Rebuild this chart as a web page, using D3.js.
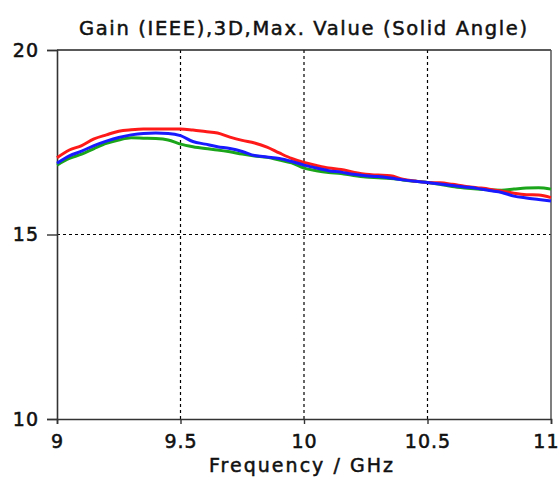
<!DOCTYPE html>
<html><head><meta charset="utf-8">
<script src="https://cdn.jsdelivr.net/npm/d3@7"></script>
<style>body{margin:0;background:#fff}svg{display:block}text{font-family:"DejaVu Sans",Verdana,sans-serif;fill:#111}</style>
</head><body><svg id="c" width="560" height="478"></svg>
<script>
const freq = [9.0,9.05,9.1,9.15,9.2,9.25,9.3,9.35,9.4,9.45,9.5,9.55,9.6,9.65,9.7,9.75,9.8,9.85,9.9,9.95,10.0,10.05,10.1,10.15,10.2,10.25,10.3,10.35,10.4,10.45,10.5,10.55,10.6,10.65,10.7,10.75,10.8,10.85,10.9,10.95,11.0];
const redGain = [17.08,17.29,17.41,17.59,17.70,17.80,17.84,17.86,17.86,17.86,17.86,17.83,17.79,17.75,17.64,17.55,17.48,17.37,17.21,17.06,16.95,16.87,16.80,16.76,16.69,16.63,16.61,16.59,16.50,16.45,16.41,16.40,16.36,16.31,16.27,16.23,16.18,16.12,16.08,16.07,16.00];
const blueGain = [16.93,17.13,17.26,17.41,17.53,17.63,17.70,17.74,17.75,17.74,17.68,17.52,17.45,17.38,17.33,17.25,17.14,17.10,17.06,16.98,16.88,16.80,16.73,16.69,16.63,16.59,16.57,16.53,16.48,16.44,16.41,16.37,16.33,16.29,16.25,16.19,16.14,16.04,15.99,15.95,15.91];
const greenGain = [16.88,17.06,17.18,17.33,17.47,17.56,17.62,17.61,17.60,17.56,17.45,17.38,17.33,17.29,17.24,17.18,17.13,17.09,17.02,16.94,16.80,16.73,16.68,16.65,16.60,16.56,16.54,16.52,16.48,16.44,16.41,16.36,16.30,16.26,16.23,16.21,16.20,16.23,16.26,16.27,16.23];
const xTicks = [9, 9.5, 10, 10.5, 11];
const xTickLabels = ["9","9.5","10","10.5","11"];
const yTicks = [10, 15, 20];
const title = "Gain (IEEE),3D,Max. Value (Solid Angle)";
const xLabel = "Frequency / GHz";

const svg = d3.select("#c");
const L = 57, R = 551, T = 50, B = 419;
const x = d3.scaleLinear().domain([9, 11]).range([L, R]);
const y = d3.scaleLinear().domain([10, 20]).range([B, T]);

// gridlines
const g = svg.append("g");
g.selectAll("line.vx").data(xTicks.filter(v => v > 9 && v < 11)).enter().append("line")
  .attr("x1", d => x(d)).attr("x2", d => x(d)).attr("y1", T).attr("y2", B)
  .attr("stroke", "#000").attr("stroke-width", 1.2).attr("stroke-dasharray", "3,3");
g.selectAll("line.hy").data(yTicks.filter(v => v > 10 && v < 20)).enter().append("line")
  .attr("x1", L).attr("x2", R).attr("y1", d => y(d)).attr("y2", d => y(d))
  .attr("stroke", "#000").attr("stroke-width", 1.2).attr("stroke-dasharray", "3,3");

// frame
svg.append("line").attr("x1", L).attr("x2", R).attr("y1", T).attr("y2", T).attr("stroke", "#222").attr("stroke-width", 1.5);
svg.append("line").attr("x1", R).attr("x2", R).attr("y1", T).attr("y2", B).attr("stroke", "#555").attr("stroke-width", 1.5);

// axes
const xAxis = d3.axisBottom(x).tickValues(xTicks).tickFormat((d, i) => xTickLabels[i]).tickSize(5).tickPadding(11);
const yAxis = d3.axisLeft(y).tickValues(yTicks).tickFormat(d3.format("d")).tickSize(10).tickPadding(8);
const gx = svg.append("g").attr("transform", `translate(0,${B})`).call(xAxis);
const gy = svg.append("g").attr("transform", `translate(${L},0)`).call(yAxis);
[gx, gy].forEach(a => {
  a.select(".domain").attr("stroke", "#333").attr("stroke-width", 1.6);
  a.selectAll(".tick line").attr("stroke", "#333").attr("stroke-width", 1.4);
  a.selectAll(".tick text").style("font-family", "DejaVu Sans, sans-serif").style("font-size", "19px")
    .style("letter-spacing", "1px").attr("fill", "#111")
    .attr("stroke", "#111").attr("stroke-width", 0.55);
});
// keep last x label inside the picture, as in the reference
gx.selectAll(".tick text").filter(d => d === 11).attr("text-anchor", "end").attr("x", 559 - x(11));

// curves
const series = [
  {vals: greenGain, color: "#1aa51a"},
  {vals: redGain, color: "#ff1a1a"},
  {vals: blueGain, color: "#1a1aff"}
];
const line = d3.line().x((d, i) => x(freq[i])).y(d => y(d)).curve(d3.curveMonotoneX);
svg.selectAll("path.s").data(series).enter().append("path")
  .attr("fill", "none").attr("stroke", d => d.color).attr("stroke-width", 3)
  .attr("stroke-linejoin", "round").attr("d", d => line(d.vals));

// texts
svg.append("text").attr("x", 303).attr("y", 35).attr("text-anchor", "middle")
  .attr("textLength", 448).attr("lengthAdjust", "spacing")
  .attr("stroke", "#111").attr("stroke-width", 0.5)
  .style("font-size", "19.5px").text(title);
svg.append("text").attr("x", 301).attr("y", 472).attr("text-anchor", "middle")
  .attr("textLength", 184).attr("lengthAdjust", "spacing")
  .attr("stroke", "#111").attr("stroke-width", 0.5)
  .style("font-size", "19px").text(xLabel);
</script></body></html>
